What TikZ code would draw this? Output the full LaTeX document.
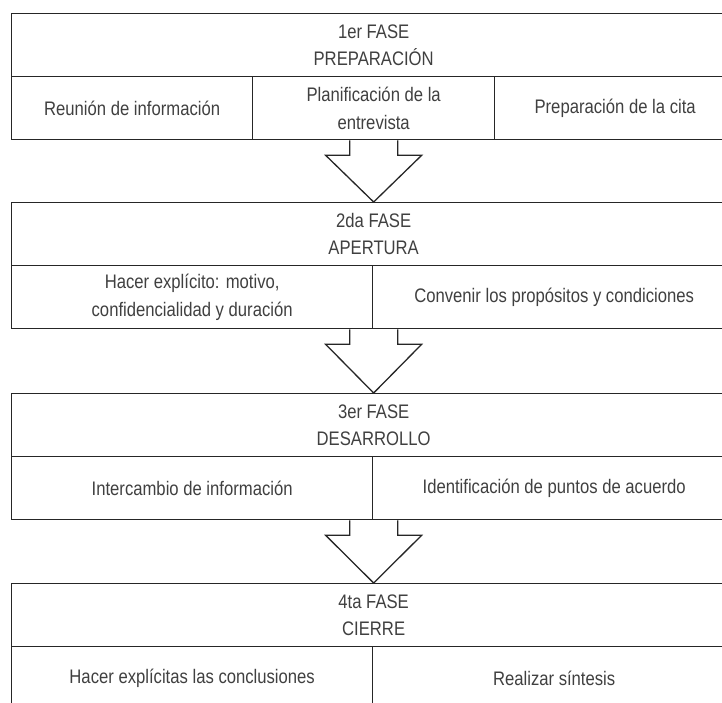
\documentclass[tikz,border=0pt]{standalone}
\usepackage{fontspec}
\setmainfont{Liberation Sans}[FakeStretch=0.85]
\usetikzlibrary{calc}
\definecolor{linec}{HTML}{262626}
\definecolor{txt}{HTML}{404040}
\begin{document}
\begin{tikzpicture}[x=1pt,y=-1pt,
  cell/.style={draw=linec, line width=1.3pt, minimum height=63pt, inner sep=0pt,
    align=center, text=txt, font=\fontsize{19.6}{27.5}\selectfont, anchor=north west},
  blockarrow/.style={draw=linec, line width=1.3pt, line join=miter}]
\useasboundingbox (0,0) rectangle (722,702);
\clip (0,0) rectangle (722,702);
\fill[white] (0,0) rectangle (722,702);
% Fase 1
\node[cell, minimum width=724pt] (h1) at (11,13) {1er FASE\\PREPARACIÓN};
\node[cell, minimum width=241pt] (c11) at (11,76) {Reunión de información};
\node[cell, minimum width=242pt] (c12) at (252,76) {Planificación de la\\entrevista};
\node[cell, minimum width=241pt] (c13) at (494,76) {Preparación de la cita};
% Fase 2
\node[cell, minimum width=724pt] (h2) at (11,202) {2da FASE\\APERTURA};
\node[cell, minimum width=361pt] (c21) at (11,265) {Hacer explícito: motivo,\\confidencialidad y duración};
\node[cell, minimum width=363pt] (c22) at (372,265) {Convenir los propósitos y condiciones};
% Fase 3
\node[cell, minimum width=724pt] (h3) at (11,393) {3er FASE\\DESARROLLO};
\node[cell, minimum width=361pt] (c31) at (11,456) {Intercambio de información};
\node[cell, minimum width=363pt] (c32) at (372,456) {Identificación de puntos de acuerdo};
% Fase 4
\node[cell, minimum width=724pt] (h4) at (11,583) {4ta FASE\\CIERRE};
\node[cell, minimum width=361pt] (c41) at (11,646) {Hacer explícitas las conclusiones};
\node[cell, minimum width=363pt] (c42) at (372,646) {Realizar síntesis};
% Block arrows
\coordinate (a1) at (h2.north |- c12.south);
\coordinate (a2) at (h3.north |- c21.south);
\coordinate (a3) at (h4.north |- c31.south);
\foreach \a/\t in {a1/h2, a2/h3, a3/h4}{
  \draw[blockarrow] ($(\a)+(-24,0)$) -- ++(0,15) -- ++(-24,0) -- (\t.north)
    -- ($(\a)+(48,15)$) -- ++(-24,0) -- ++(0,-15);
}
\end{tikzpicture}
\end{document}
